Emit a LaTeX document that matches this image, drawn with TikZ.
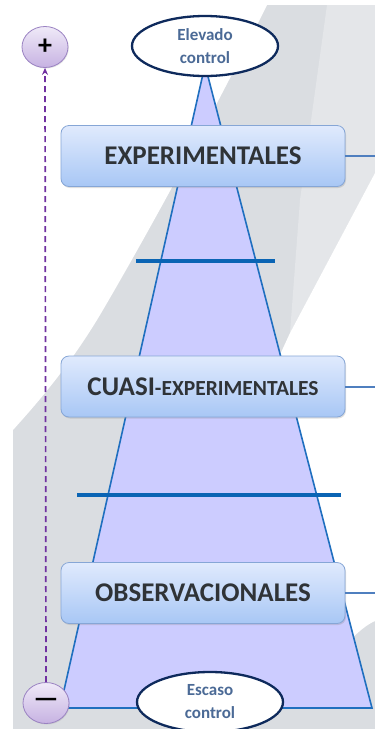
\documentclass[tikz,border=0pt]{standalone}
\usepackage{fontspec}
\setmainfont{Carlito}
\usetikzlibrary{shadows,arrows.meta,shapes.geometric}
\definecolor{bggray}{HTML}{DADDE1}
\definecolor{bglight}{HTML}{E4E6E9}
\definecolor{pyrfill}{HTML}{CCCCFF}
\definecolor{pyredge}{HTML}{1F6FBF}
\definecolor{barblue}{HTML}{0A64B4}
\definecolor{boxtop}{HTML}{E0EAFD}
\definecolor{boxbot}{HTML}{A8C7F5}
\definecolor{boxedge}{HTML}{86A6D6}
\definecolor{boxtext}{HTML}{2F3337}
\definecolor{linkblue}{HTML}{4F7FBF}
\definecolor{elledge}{HTML}{0E2A5C}
\definecolor{elltext}{HTML}{4B6A96}
\definecolor{circtop}{HTML}{F0EAF8}
\definecolor{circbot}{HTML}{C6B2E2}
\definecolor{circedge}{HTML}{9A82C2}
\definecolor{dashpurple}{HTML}{7030A0}
\tikzset{
  levelbox/.style={draw=boxedge, line width=0.8pt, rounded corners=8pt,
    top color=boxtop, bottom color=boxbot, minimum width=284pt, minimum height=61pt,
    text=boxtext, font=\bfseries\fontsize{27}{30}\selectfont, inner sep=0pt,
    drop shadow={opacity=0.25, shadow xshift=1pt, shadow yshift=-1.5pt}},
  ctrlell/.style={ellipse, draw=elledge, line width=2.3pt, fill=white,
    minimum width=146pt, minimum height=60pt, inner sep=0pt, text=elltext,
    font=\bfseries\fontsize{17}{23}\selectfont, align=center},
  signcirc/.style={ellipse, draw=circedge, line width=0.8pt, top color=circtop,
    bottom color=circbot, minimum width=46pt, minimum height=41pt, inner sep=0pt,
    font=\bfseries\fontsize{28}{28}\selectfont,
    drop shadow={opacity=0.2, shadow xshift=0.8pt, shadow yshift=-1pt}},
  link/.style={draw=linkblue, line width=2pt},
  bar/.style={draw=barblue, line width=4pt},
  updash/.style={draw=dashpurple, line width=1.7pt, dashed, dash pattern=on 6pt off 4pt,
    -{Stealth[length=7pt,width=6pt]}}
}
\begin{document}
\begin{tikzpicture}[x=1pt,y=-1pt]
\useasboundingbox (0,0) rectangle (375,729);
% background
\fill[white] (0,0) rectangle (375,729);
\fill[bggray] (13,5) rectangle (375,729);
\fill[bglight] (327,5) -- (375,5) -- (375,173) -- (290,333) -- (300,200) -- cycle;
\fill[white] (13,5) -- (267,5) .. controls (215,110) and (150,230) .. (100,315)
  .. controls (70,365) and (40,400) .. (13,430) -- cycle;
\fill[white] (375,173) -- (290,333) -- (250,420) -- (250,690) -- (345,645)
  .. controls (358,632) and (366,625) .. (375,621) -- cycle;
% pyramid
\filldraw[fill=pyrfill, draw=pyredge, line width=1.6pt, line join=miter]
  (205,65) -- (372,708) -- (60,708) -- cycle;
% bars
\draw[bar] (136,261) -- (275,261);
\draw[bar] (77,495) -- (341,495);
% boxes
\node[levelbox] (exp) at (203,156) {EXPERIMENTALES};
\node[levelbox] (cuasi) at (203,386.5) {CUASI{\fontsize{21.5}{24}\selectfont-EXPERIMENTALES}};
\node[levelbox] (obs) at (203,593) {OBSERVACIONALES};
\coordinate (expR) at (375,156);
\coordinate (cuasiR) at (375,386.5);
\coordinate (obsR) at (375,593);
\draw[link] (exp.east) -- (expR);
\draw[link] (cuasi.east) -- (cuasiR);
\draw[link] (obs.east) -- (obsR);
% ellipses
\node[ctrlell] (high) at (205,46) {Elevado\\control};
\node[ctrlell] (low) at (210,702) {Escaso\\control};
% signs
\node[signcirc] (plus) at (45,47) {+};
\node[signcirc] (minus) at (46,703) {—};
\draw[updash] (minus.north) -- (plus.south);
\end{tikzpicture}
\end{document}
